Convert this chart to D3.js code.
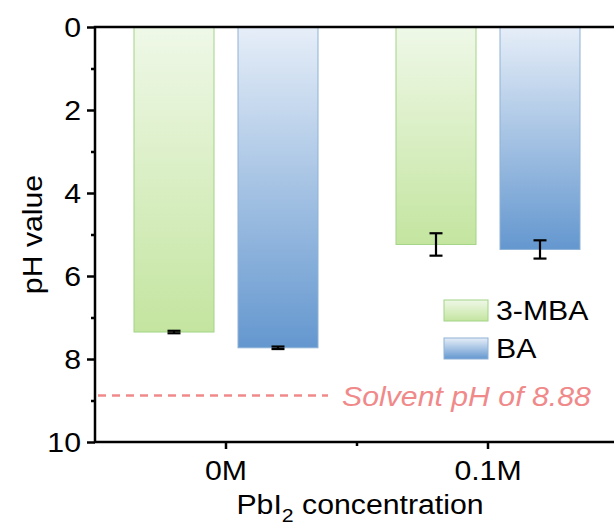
<!DOCTYPE html>
<html>
<head>
<meta charset="utf-8">
<script src="https://cdn.jsdelivr.net/npm/d3@7"></script>
<style>
  body { margin: 0; background: #fff; }
  text { font-family: Arial, "Liberation Sans", sans-serif; }
</style>
</head>
<body>
<svg width="614" height="527"></svg>
<script>
var categories = ["0M", "0.1M"],
series = ["3-MBA", "BA"],
mbaValues = [7.35, 5.24],
mbaErrors = [0.03, 0.27],
baValues = [7.73, 5.36],
baErrors = [0.03, 0.22],
yTicks = [0, 2, 4, 6, 8, 10],
solventPH = 8.88;

var svg = d3.select("svg"),
left = 95, right = 619, plotTop = 27, plotBottom = 442,
fs = 27;

var y = d3.scaleLinear().domain([0, 10]).range([plotTop, plotBottom]);
var x = d3.scaleBand().domain(categories).range([left, right]);
var xs = d3.scaleBand().domain(series).range([-92, 92]).paddingInner(24 / 104);

// gradients
var defs = svg.append("defs");
var grads = {
  "3-MBA": ["#eff8e8", "#c4e5a0"],
  "BA": ["#e6eef8", "#6497cf"]
};
var strokes = { "3-MBA": "#a3d487", "BA": "#8db2d6" };
series.forEach(function(s, i) {
  var g = defs.append("linearGradient").attr("id", "g" + i)
    .attr("x1", 0).attr("y1", 0).attr("x2", 0).attr("y2", 1);
  g.append("stop").attr("offset", "0%").attr("stop-color", grads[s][0]);
  g.append("stop").attr("offset", "100%").attr("stop-color", grads[s][1]);
});

var rows = [];
categories.forEach(function(c, i) {
  rows.push({cat: c, s: "3-MBA", si: 0, v: mbaValues[i], e: mbaErrors[i]});
  rows.push({cat: c, s: "BA", si: 1, v: baValues[i], e: baErrors[i]});
});

// bars
svg.append("g").selectAll("rect").data(rows).enter().append("rect")
  .attr("x", function(d) { return x(d.cat) + x.bandwidth() / 2 + xs(d.s); })
  .attr("y", y(0))
  .attr("width", xs.bandwidth())
  .attr("height", function(d) { return y(d.v) - y(0); })
  .attr("fill", function(d) { return "url(#g" + d.si + ")"; })
  .attr("stroke", function(d) { return strokes[d.s]; })
  .attr("stroke-width", 1);

// error bars
var eb = svg.append("g").attr("stroke", "#000").attr("stroke-width", 2.2)
  .selectAll("g").data(rows).enter().append("g")
  .attr("transform", function(d) { return "translate(" + (x(d.cat) + x.bandwidth() / 2 + xs(d.s) + xs.bandwidth() / 2) + ",0)"; });
eb.append("line").attr("x1", 0).attr("x2", 0)
  .attr("y1", function(d) { return y(d.v - d.e); })
  .attr("y2", function(d) { return y(d.v + d.e); });
eb.append("line").attr("x1", -6.5).attr("x2", 6.5)
  .attr("y1", function(d) { return y(d.v - d.e); })
  .attr("y2", function(d) { return y(d.v - d.e); });
eb.append("line").attr("x1", -6.5).attr("x2", 6.5)
  .attr("y1", function(d) { return y(d.v + d.e); })
  .attr("y2", function(d) { return y(d.v + d.e); });

// solvent line
svg.append("line")
  .attr("x1", left + 3).attr("x2", 328)
  .attr("y1", y(solventPH)).attr("y2", y(solventPH))
  .attr("stroke", "#f08a8a").attr("stroke-width", 2.5)
  .attr("stroke-dasharray", "8,6");
svg.append("text")
  .attr("x", 342).attr("y", y(solventPH) + 10)
  .attr("font-size", fs).attr("font-style", "italic")
  .attr("fill", "#f08a8a")
  .text("Solvent pH of " + solventPH.toFixed(2));

// axes
var yAxis = svg.append("g").attr("transform", "translate(" + left + ",0)")
  .call(d3.axisLeft(y).tickValues(yTicks).tickSize(8).tickPadding(6));
yAxis.select(".domain").remove();
yAxis.selectAll("line").attr("stroke-width", 2.5);
yAxis.selectAll("text").attr("font-size", fs).attr("fill", "#000").attr("dy", "0.36em")
  .style("font-family", "Arial, 'Liberation Sans', sans-serif");

var yMinor = svg.append("g").attr("transform", "translate(" + left + ",0)")
  .call(d3.axisLeft(y).tickValues([1, 3, 5, 7, 9]).tickSize(4).tickFormat(""));
yMinor.select(".domain").remove();
yMinor.selectAll("line").attr("stroke-width", 2.5);

var xAxis = svg.append("g").attr("transform", "translate(0," + plotBottom + ")")
  .call(d3.axisBottom(x).tickSize(7).tickPadding(12));
xAxis.select(".domain").remove();
xAxis.selectAll("line").attr("stroke-width", 2.5);
xAxis.selectAll("text").attr("font-size", fs).attr("fill", "#000")
  .style("font-family", "Arial, 'Liberation Sans', sans-serif");

var midX = x("0.1M");
svg.append("line").attr("x1", midX).attr("x2", midX)
  .attr("y1", plotBottom).attr("y2", plotBottom + 4)
  .attr("stroke", "#000").attr("stroke-width", 2.5);

// frame
svg.append("rect").attr("x", left).attr("y", plotTop)
  .attr("width", right - left).attr("height", plotBottom - plotTop)
  .attr("fill", "none").attr("stroke", "#000").attr("stroke-width", 2.5);

// axis titles
svg.append("text")
  .attr("transform", "translate(42," + ((plotTop + plotBottom) / 2) + ") rotate(-90)")
  .attr("text-anchor", "middle").attr("font-size", fs)
  .text("pH value");
var xt = svg.append("text")
  .attr("x", 360).attr("y", 514)
  .attr("text-anchor", "middle").attr("font-size", fs);
xt.append("tspan").text("PbI");
xt.append("tspan").attr("font-size", 19).attr("dy", 8).text("2");
xt.append("tspan").attr("dy", -8).text(" concentration");

// legend
var lg = svg.append("g").selectAll("g").data(series).enter().append("g")
  .attr("transform", function(d, i) { return "translate(444," + (300 + i * 38) + ")"; });
lg.append("rect").attr("width", 44).attr("height", 21)
  .attr("fill", function(d, i) { return "url(#g" + i + ")"; })
  .attr("stroke", function(d) { return strokes[d]; });
lg.append("text").attr("x", 52).attr("y", 20).attr("font-size", fs)
  .text(function(d) { return d; });

// the source figure's lettering is a little wider than Arial
svg.selectAll("text").each(function() {
  var l = this.getComputedTextLength();
  if (l > 0) d3.select(this).attr("textLength", l * 1.12).attr("lengthAdjust", "spacingAndGlyphs");
});
</script>
</body>
</html>
